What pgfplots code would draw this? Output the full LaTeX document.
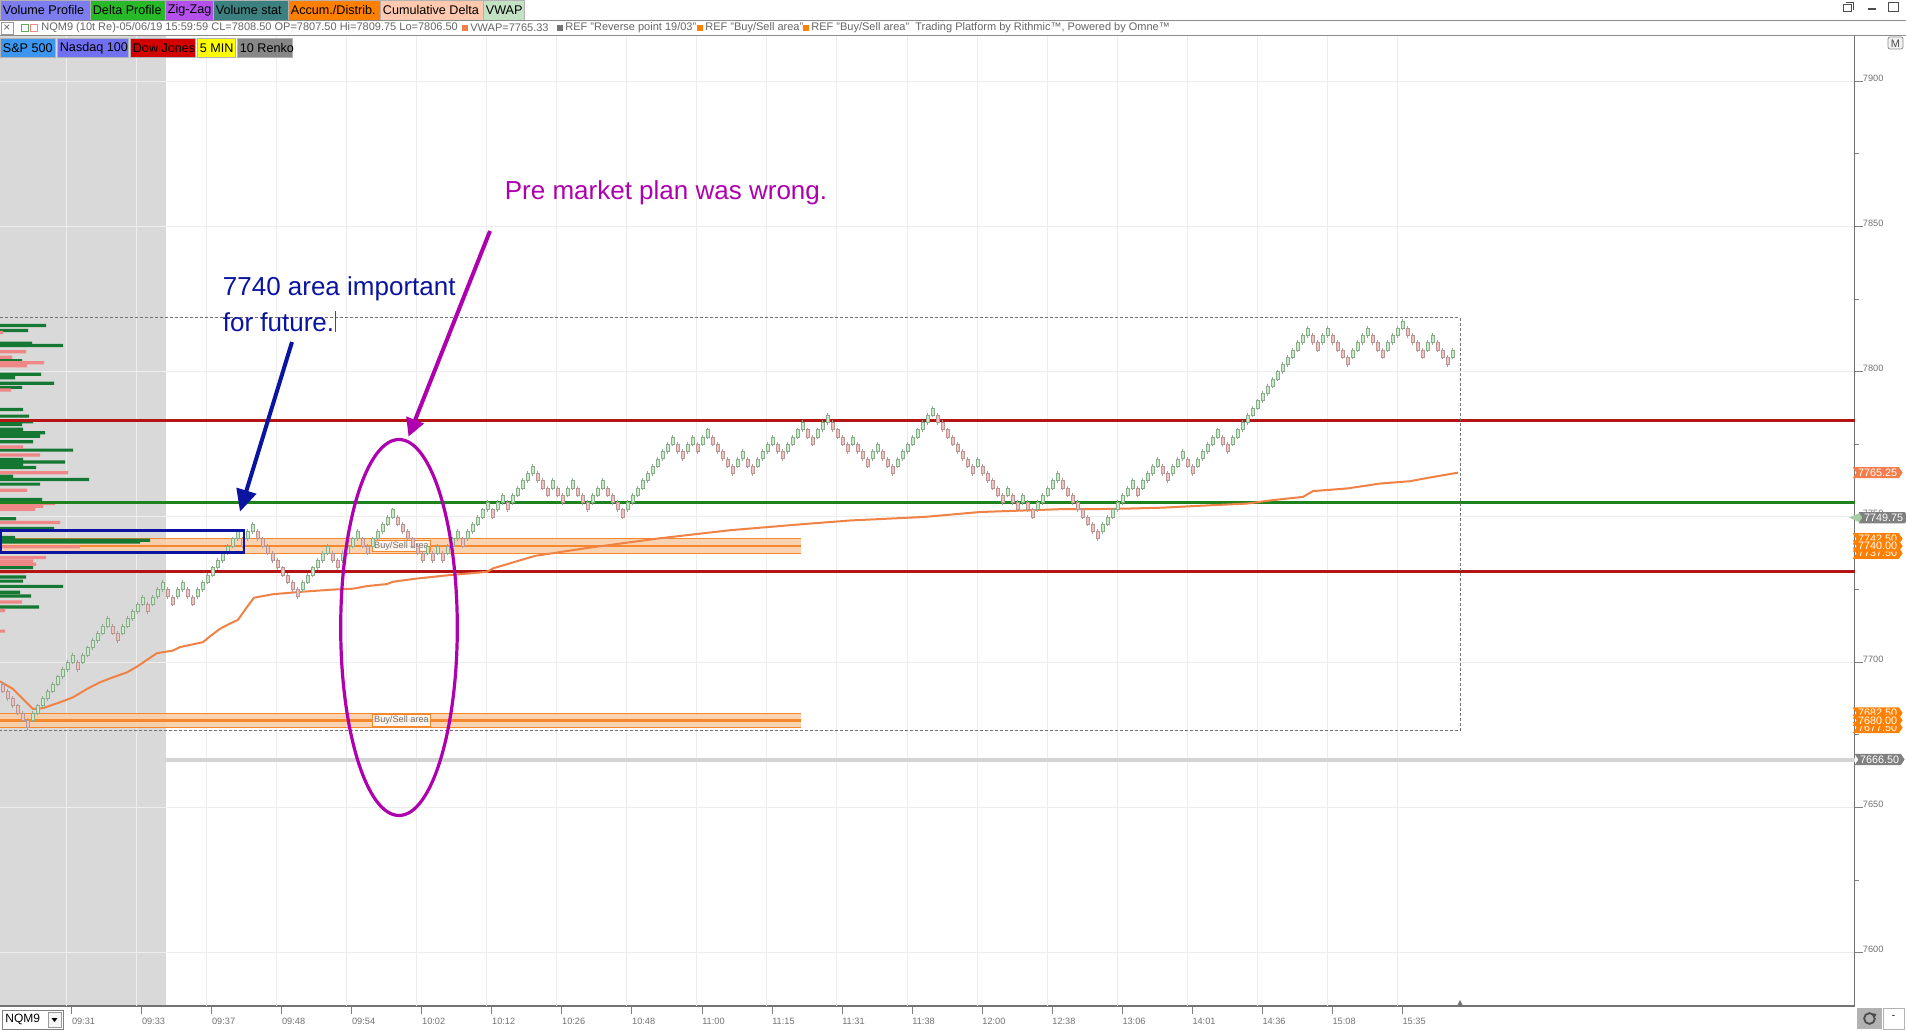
\documentclass[border=0pt]{standalone}
\usepackage{fontspec}
\setmainfont{Liberation Sans}
\usepackage{pgfplots}
\pgfplotsset{compat=1.18}
\usepackage{pgfplotstable}
\usetikzlibrary{arrows.meta,shapes.symbols}

\newcommand{\fs}[1]{\fontsize{#1pt}{#1pt}\selectfont}

\definecolor{shadegray}{RGB}{217,217,217}
\definecolor{vpgreen}{RGB}{20,120,50}
\definecolor{vppink}{RGB}{240,135,135}
\definecolor{lvred}{RGB}{180,20,20}
\definecolor{lvgreen}{RGB}{30,130,30}
\definecolor{vwap}{RGB}{240,130,70}
\definecolor{band}{RGB}{250,205,165}
\definecolor{bandline}{RGB}{245,135,45}
\definecolor{upfill}{RGB}{200,236,200}
\definecolor{updraw}{RGB}{140,170,140}
\definecolor{dnfill}{RGB}{240,195,195}
\definecolor{dndraw}{RGB}{185,150,150}
\definecolor{annblue}{RGB}{10,20,160}
\definecolor{annmag}{RGB}{175,0,175}
\definecolor{flagsal}{RGB}{245,125,75}
\definecolor{flagor}{RGB}{255,128,0}
\definecolor{flaggr}{RGB}{128,128,128}
\definecolor{bVP}{RGB}{125,125,240}
\definecolor{bDP}{RGB}{40,185,40}
\definecolor{bZZ}{RGB}{180,80,235}
\definecolor{bVS}{RGB}{60,128,128}
\definecolor{bAD}{RGB}{255,128,0}
\definecolor{bCD}{RGB}{255,200,175}
\definecolor{bVW}{RGB}{195,225,195}
\definecolor{bSP}{RGB}{60,150,240}
\definecolor{bNQ}{RGB}{112,112,240}
\definecolor{bDJ}{RGB}{210,0,0}
\definecolor{bMN}{RGB}{255,255,0}
\definecolor{bRK}{RGB}{135,135,135}

% renko brick: body + wick
\pgfdeclareplotmark{brick}{%
  \pgfpathmoveto{\pgfqpoint{0pt}{-2.9pt}}%
  \pgfpathlineto{\pgfqpoint{0pt}{2.9pt}}%
  \pgfusepathqstroke
  \pgfpathrectangle{\pgfqpoint{-0.85pt}{-1.8pt}}{\pgfqpoint{1.7pt}{3.6pt}}%
  \pgfusepathqfillstroke}

% brick index, brick centre price, direction
\pgfplotstableread[row sep=\\]{
i p c\\
0 7691.25 d\\ 1 7688.75 d\\ 2 7686.25 d\\ 3 7683.75 d\\ 4 7681.25 d\\ 5 7678.75 d\\
6 7681.25 u\\ 7 7683.75 u\\ 8 7686.25 u\\ 9 7688.75 u\\ 10 7691.25 u\\ 11 7693.75 u\\
12 7696.25 u\\ 13 7698.75 u\\ 14 7701.25 u\\ 15 7698.75 d\\ 16 7701.25 u\\ 17 7703.75 u\\
18 7706.25 u\\ 19 7708.75 u\\ 20 7711.25 u\\ 21 7713.75 u\\ 22 7711.25 d\\ 23 7708.75 d\\
24 7711.25 u\\ 25 7713.75 u\\ 26 7716.25 u\\ 27 7718.75 u\\ 28 7721.25 u\\ 29 7718.75 d\\
30 7721.25 u\\ 31 7723.75 u\\ 32 7726.25 u\\ 33 7723.75 d\\ 34 7721.25 d\\ 35 7723.75 u\\
36 7726.25 u\\ 37 7723.75 d\\ 38 7721.25 d\\ 39 7723.75 u\\ 40 7726.25 u\\ 41 7728.75 u\\
42 7731.25 u\\ 43 7733.75 u\\ 44 7736.25 u\\ 45 7738.75 u\\ 46 7741.25 u\\ 47 7743.75 u\\
48 7741.25 d\\ 49 7743.75 u\\ 50 7746.25 u\\ 51 7743.75 d\\ 52 7741.25 d\\ 53 7738.75 d\\
54 7736.25 d\\ 55 7733.75 d\\ 56 7731.25 d\\ 57 7728.75 d\\ 58 7726.25 d\\ 59 7723.75 d\\
60 7726.25 u\\ 61 7728.75 u\\ 62 7731.25 u\\ 63 7733.75 u\\ 64 7736.25 u\\ 65 7738.75 u\\
66 7736.25 d\\ 67 7733.75 d\\ 68 7736.25 u\\ 69 7738.75 u\\ 70 7741.25 u\\ 71 7743.75 u\\
72 7741.25 d\\ 73 7738.75 d\\ 74 7741.25 u\\ 75 7743.75 u\\ 76 7746.25 u\\ 77 7748.75 u\\
78 7751.25 u\\ 79 7748.75 d\\ 80 7746.25 d\\ 81 7743.75 d\\ 82 7741.25 d\\ 83 7738.75 d\\
84 7736.25 d\\ 85 7738.75 u\\ 86 7736.25 d\\ 87 7738.75 u\\ 88 7736.25 d\\ 89 7738.75 u\\
90 7741.25 u\\ 91 7743.75 u\\ 92 7741.25 d\\ 93 7743.75 u\\ 94 7746.25 u\\ 95 7748.75 u\\
96 7751.25 u\\ 97 7753.75 u\\ 98 7751.25 d\\ 99 7753.75 u\\ 100 7756.25 u\\ 101 7753.75 d\\
102 7756.25 u\\ 103 7758.75 u\\ 104 7761.25 u\\ 105 7763.75 u\\ 106 7766.25 u\\ 107 7763.75 d\\
108 7761.25 d\\ 109 7758.75 d\\ 110 7761.25 u\\ 111 7758.75 d\\ 112 7756.25 d\\ 113 7758.75 u\\
114 7761.25 u\\ 115 7758.75 d\\ 116 7756.25 d\\ 117 7753.75 d\\ 118 7756.25 u\\ 119 7758.75 u\\
120 7761.25 u\\ 121 7758.75 d\\ 122 7756.25 d\\ 123 7753.75 d\\ 124 7751.25 d\\ 125 7753.75 u\\
126 7756.25 u\\ 127 7758.75 u\\ 128 7761.25 u\\ 129 7763.75 u\\ 130 7766.25 u\\ 131 7768.75 u\\
132 7771.25 u\\ 133 7773.75 u\\ 134 7776.25 u\\ 135 7773.75 d\\ 136 7771.25 d\\ 137 7773.75 u\\
138 7776.25 u\\ 139 7773.75 d\\ 140 7776.25 u\\ 141 7778.75 u\\ 142 7776.25 d\\ 143 7773.75 d\\
144 7771.25 d\\ 145 7768.75 d\\ 146 7766.25 d\\ 147 7768.75 u\\ 148 7771.25 u\\ 149 7768.75 d\\
150 7766.25 d\\ 151 7768.75 u\\ 152 7771.25 u\\ 153 7773.75 u\\ 154 7776.25 u\\ 155 7773.75 d\\
156 7771.25 d\\ 157 7773.75 u\\ 158 7776.25 u\\ 159 7778.75 u\\ 160 7781.25 u\\ 161 7778.75 d\\
162 7776.25 d\\ 163 7778.75 u\\ 164 7781.25 u\\ 165 7783.75 u\\ 166 7781.25 d\\ 167 7778.75 d\\
168 7776.25 d\\ 169 7773.75 d\\ 170 7776.25 u\\ 171 7773.75 d\\ 172 7771.25 d\\ 173 7768.75 d\\
174 7771.25 u\\ 175 7773.75 u\\ 176 7771.25 d\\ 177 7768.75 d\\ 178 7766.25 d\\ 179 7768.75 u\\
180 7771.25 u\\ 181 7773.75 u\\ 182 7776.25 u\\ 183 7778.75 u\\ 184 7781.25 u\\ 185 7783.75 u\\
186 7786.25 u\\ 187 7783.75 d\\ 188 7781.25 d\\ 189 7778.75 d\\ 190 7776.25 d\\ 191 7773.75 d\\
192 7771.25 d\\ 193 7768.75 d\\ 194 7766.25 d\\ 195 7768.75 u\\ 196 7766.25 d\\ 197 7763.75 d\\
198 7761.25 d\\ 199 7758.75 d\\ 200 7756.25 d\\ 201 7758.75 u\\ 202 7756.25 d\\ 203 7753.75 d\\
204 7756.25 u\\ 205 7753.75 d\\ 206 7751.25 d\\ 207 7753.75 u\\ 208 7756.25 u\\ 209 7758.75 u\\
210 7761.25 u\\ 211 7763.75 u\\ 212 7761.25 d\\ 213 7758.75 d\\ 214 7756.25 d\\ 215 7753.75 d\\
216 7751.25 d\\ 217 7748.75 d\\ 218 7746.25 d\\ 219 7743.75 d\\ 220 7746.25 u\\ 221 7748.75 u\\
222 7751.25 u\\ 223 7753.75 u\\ 224 7756.25 u\\ 225 7758.75 u\\ 226 7761.25 u\\ 227 7758.75 d\\
228 7761.25 u\\ 229 7763.75 u\\ 230 7766.25 u\\ 231 7768.75 u\\ 232 7766.25 d\\ 233 7763.75 d\\
234 7766.25 u\\ 235 7768.75 u\\ 236 7771.25 u\\ 237 7768.75 d\\ 238 7766.25 d\\ 239 7768.75 u\\
240 7771.25 u\\ 241 7773.75 u\\ 242 7776.25 u\\ 243 7778.75 u\\ 244 7776.25 d\\ 245 7773.75 d\\
246 7776.25 u\\ 247 7778.75 u\\ 248 7781.25 u\\ 249 7783.75 u\\ 250 7786.25 u\\ 251 7788.75 u\\
252 7791.25 u\\ 253 7793.75 u\\ 254 7796.25 u\\ 255 7798.75 u\\ 256 7801.25 u\\ 257 7803.75 u\\
258 7806.25 u\\ 259 7808.75 u\\ 260 7811.25 u\\ 261 7813.75 u\\ 262 7811.25 d\\ 263 7808.75 d\\
264 7811.25 u\\ 265 7813.75 u\\ 266 7811.25 d\\ 267 7808.75 d\\ 268 7806.25 d\\ 269 7803.75 d\\
270 7806.25 u\\ 271 7808.75 u\\ 272 7811.25 u\\ 273 7813.75 u\\ 274 7811.25 d\\ 275 7808.75 d\\
276 7806.25 d\\ 277 7808.75 u\\ 278 7811.25 u\\ 279 7813.75 u\\ 280 7816.25 u\\ 281 7813.75 d\\
282 7811.25 d\\ 283 7808.75 d\\ 284 7806.25 d\\ 285 7808.75 u\\ 286 7811.25 u\\ 287 7808.75 d\\
288 7806.25 d\\ 289 7803.75 d\\ 290 7806.25 u\\
}\bricks

\begin{document}
\begin{tikzpicture}
\path[use as bounding box] (0,0) rectangle (953pt,515pt);

% background (pixel coordinates of the screenshot)
\begin{scope}[x=0.5pt,y=-0.5pt,yshift=515pt]
  \fill[white] (0,0) rectangle (1906,1030);
  \fill[shadegray] (0,36) rectangle (166,1006);
\end{scope}

\begin{axis}[
    at={(0pt,12pt)}, anchor=south west, scale only axis,
    width=927.25pt, height=485pt,
    xmin=0, xmax=1854.5, ymin=7581.65, ymax=7915.56,
    clip=false,
    axis x line*=bottom, axis y line*=right,
    axis line style={draw=black!55, line width=0.8pt},
    tick align=outside, major tick length=4pt, minor tick length=2pt,
    tick style={draw=black!50, line width=0.4pt},
    ytick={7600,7650,7700,7750,7800,7850,7900},
    minor ytick={7625,7675,7725,7775,7825,7875},
    ymajorgrids,
    grid style={draw=black!7, line width=0.5pt},
    yticklabel style={font=\fs{4.6}, text=black!55, anchor=west, inner sep=0.5pt, xshift=-0.5pt, yshift=1.6pt},
    xtick={71.6,141.6,211.7,281.7,351.7,421.8,491.8,561.8,631.8,701.9,771.9,841.9,912.0,982.0,1052.0,1122.1,1192.1,1262.1,1332.2,1402.2},
    xticklabels={09:31,09:33,09:37,09:48,09:54,10:02,10:12,10:26,10:48,11:00,11:15,11:31,11:38,12:00,12:38,13:06,14:01,14:36,15:08,15:35},
    xticklabel style={font=\fs{4.6}, text=black!55, anchor=north west, inner sep=0.5pt, xshift=-0.5pt, yshift=-1.5pt},
    extra x ticks={66.6,136.6,206.7,276.7,346.7,416.8,486.8,556.8,626.8,696.9,766.9,836.9,907.0,977.0,1047.0,1117.1,1187.1,1257.1,1327.2,1397.2},
    extra x tick style={grid=major, tick style={draw=none}, xticklabel={}},
    /pgf/number format/1000 sep={}, /pgf/number format/assume math mode=true,
]

% Buy/Sell areas
\addplot[draw=none, fill=band, fill opacity=0.85] coordinates {(0,7737.5) (801,7737.5) (801,7742.5) (0,7742.5)} -- cycle;
\addplot[draw=none, fill=band, fill opacity=0.85] coordinates {(0,7677.5) (801,7677.5) (801,7682.5) (0,7682.5)} -- cycle;
\addplot[bandline, line width=0.5pt] coordinates {(0,7742.5) (801,7742.5)};
\addplot[bandline, line width=0.5pt] coordinates {(0,7737.5) (801,7737.5)};
\addplot[bandline, line width=1.2pt] coordinates {(0,7740) (801,7740)};
\addplot[bandline, line width=0.5pt] coordinates {(0,7682.5) (801,7682.5)};
\addplot[bandline, line width=0.5pt] coordinates {(0,7677.5) (801,7677.5)};
\addplot[bandline, line width=1.2pt] coordinates {(0,7680) (801,7680)};

% volume profile
\addplot[xbar, bar width=1.1, bar shift=0pt, fill=vpgreen, draw=none] coordinates {
(46,7815.9) (28,7814.2) (32,7809.8) (63,7809.0) (22,7803.8) (41,7799.1) (15,7797.9)
(54,7796.0) (22,7794.6) (23,7787.0) (29,7784.7) (33,7782.8) (22,7781.8) (23,7780.2)
(45,7779.0) (40,7777.8) (33,7775.9) (73,7773.0) (23,7769.8) (65,7768.9) (23,7768.2)
(36,7767.0) (13,7764.0) (89,7762.9) (40,7761.3) (42,7756.0) (16,7749.4) (54,7746.0)
(15,7742.9) (150,7742.0) (140,7741.4) (33,7732.6) (26,7729.3) (23,7727.9) (63,7726.1)
(20,7724.1) (31,7722.8) (39,7719.0)};
\addplot[xbar, bar width=1.1, bar shift=0pt, fill=vppink, draw=none] coordinates {
(3,7813.5) (26,7806.9) (12,7805.0) (44,7803.1) (27,7802.0) (11,7793.7) (23,7774.1)
(40,7771.3) (68,7765.2) (27,7759.2) (55,7754.6) (43,7753.7) (35,7752.6) (60,7748.1)
(80,7739.7) (46,7736.0) (33,7734.8) (36,7733.7) (25,7731.0) (22,7720.7) (5,7717.8)
(5,7710.7)};

% levels
\addplot[lvred, line width=1.2pt] coordinates {(0,7783.25) (1854.5,7783.25)};
\addplot[lvgreen, line width=1.2pt] coordinates {(0,7755) (1854.5,7755)};
\addplot[lvred, line width=1.2pt] coordinates {(0,7731.25) (1854.5,7731.25)};
\addplot[black!17, line width=2pt] coordinates {(166,7666.5) (1854.5,7666.5)};

% VWAP
\addplot[vwap, line width=1pt] coordinates {
(0,7693.4) (13,7690.8) (23,7687.3) (33,7683.9) (43,7684.2) (60,7686.2) (73,7687.9)
(87,7690.8) (100,7693.1) (113,7694.8) (127,7696.5) (137,7698.5) (147,7700.8) (157,7703.1)
(173,7704.0) (180,7705.2) (203,7706.9) (210,7708.9) (220,7711.5) (230,7713.3) (238,7714.6)
(247,7719.0) (254,7722.2) (273,7723.4) (300,7724.2) (333,7725.0) (353,7725.3) (367,7726.2)
(387,7726.9) (393,7727.7) (417,7728.8) (450,7730.0) (487,7731.1) (493,7732.3) (535,7736.6)
(583,7739.1) (656,7742.5) (729,7745.4) (802,7747.5) (851,7748.8) (924,7750.0) (980,7751.7)
(1063,7752.7) (1097,7752.7) (1130,7752.9) (1163,7753.2) (1197,7753.8) (1247,7754.6)
(1273,7755.8) (1303,7756.9) (1313,7758.9) (1347,7759.8) (1380,7761.5) (1410,7762.3)
(1427,7763.4) (1458,7765.25)};

% session range box
\addplot[black!55, line width=0.5pt, dash pattern=on 1.5pt off 1pt] coordinates {(0,7818.5) (1460,7818.5) (1460,7676.5) (0,7676.5)};

% renko bricks
\addplot[scatter, only marks, scatter src=explicit symbolic,
  scatter/classes={u={mark=brick, draw=updraw, fill=upfill, line width=0.35pt},
                   d={mark=brick, draw=dndraw, fill=dnfill, line width=0.35pt}}]
  table[x expr=2.7+5*\thisrow{i}, y=p, meta=c] {\bricks};

% area labels
\node[draw=bandline, fill=white, fill opacity=0.8, text opacity=1, text=black!55, font=\fs{4.6}, inner xsep=1pt, inner ysep=0.8pt, line width=0.4pt] at (axis cs:401.5,7740) {Buy/Sell area};
\node[draw=bandline, fill=white, fill opacity=0.8, text opacity=1, text=black!55, font=\fs{4.6}, inner xsep=1pt, inner ysep=0.8pt, line width=0.4pt] at (axis cs:401.5,7680) {Buy/Sell area};

% price flags
\tikzset{flag/.style={signal, signal from=west, signal pointer angle=110, text=white, font=\fs{5.4}, inner xsep=0.8pt, inner ysep=0pt, minimum height=5.6pt, anchor=west}}
\node[flag, fill=flagsal, minimum width=25pt] at (axis cs:1856,7765.25) {7765.25};
\fill[lvgreen!40] (axis cs:1849,7749.75) -- (axis cs:1862,7751.7) -- (axis cs:1862,7747.8) -- cycle;
\node[flag, fill=flaggr, minimum width=22pt] at (axis cs:1862,7749.75) {7749.75};
\node[flag, fill=flagor, minimum width=25pt] at (axis cs:1856,7742.5) {7742.50};
\node[flag, fill=flagor, minimum width=25pt] at (axis cs:1856,7737.5) {7737.50};
\node[flag, fill=flagor, minimum width=25pt] at (axis cs:1856,7740) {7740.00};
\node[flag, fill=flagor, minimum width=25pt] at (axis cs:1856,7682.5) {7682.50};
\node[flag, fill=flagor, minimum width=25pt] at (axis cs:1856,7677.5) {7677.50};
\node[flag, fill=flagor, minimum width=25pt] at (axis cs:1856,7680) {7680.00};
\node[flag, fill=flaggr, minimum width=24pt] at (axis cs:1858,7666.5) {7666.50};
\end{axis}

% platform frame, toolbars and annotations
\begin{scope}[x=0.5pt,y=-0.5pt,yshift=515pt]
  \tikzset{btn/.style={draw=black!30, line width=0.3pt}}
  \newcommand{\btn}[6]{\fill[#5] (#1,#3) rectangle (#2,#4); \draw[btn] (#1,#3) rectangle (#2,#4);
    \node[anchor=west, inner sep=0pt, font=\fs{6.3}] at ({#1+2.5},{(#3+#4)/2+0.5}) {#6};}
  \btn{0}{90}{0}{20}{bVP}{Volume Profile}
  \btn{90}{165}{0}{20}{bDP}{Delta Profile}
  \btn{165}{213}{0}{20}{bZZ}{Zig-Zag}
  \btn{213}{288}{0}{20}{bVS}{Volume stat}
  \btn{288}{380}{0}{20}{bAD}{Accum./Distrib.}
  \btn{380}{483}{0}{20}{bCD}{Cumulative Delta}
  \btn{483}{524}{0}{20}{bVW}{VWAP}
  \btn{0}{55}{38}{57}{bSP}{S\&P 500}
  \btn{57}{128}{38}{57}{bNQ}{Nasdaq 100}
  \btn{130}{195}{38}{57}{bDJ}{Dow Jones}
  \btn{197}{235}{38}{57}{bMN}{5 MIN}
  \btn{237}{292}{38}{57}{bRK}{10 Renko}

  % info line
  \draw[black!45, line width=0.5pt] (0,20.5) -- (1906,20.5);
  \draw[black!45, line width=0.5pt] (0,35.5) -- (1906,35.5);
  \draw[black!40, line width=0.3pt] (1,22) rectangle (13,34);
  \node[font=\fs{6}, text=black!60, inner sep=0pt] at (7,28) {×};
  \draw[lvgreen!70, line width=0.4pt] (21,24) rectangle (28,31);
  \draw[vppink, line width=0.4pt] (30,24) rectangle (37,31);
  \tikzset{info/.style={anchor=west, inner sep=0pt, font=\fs{5.5}, text=black!60}}
  \node[info] at (41,28) {NQM9 (10t Re)-05/06/19 15:59:59 CL=7808.50 OP=7807.50 Hi=7809.75 Lo=7806.50};
  \fill[vwap] (462,25) rectangle (468,31);
  \node[info] at (470,28) {VWAP=7765.33};
  \fill[black!55] (557,25) rectangle (563,31);
  \node[info] at (565,28) {REF "Reverse point 19/03"};
  \fill[flagor] (697,25) rectangle (703,31);
  \node[info] at (705,28) {REF "Buy/Sell area"};
  \fill[flagor] (803,25) rectangle (809,31);
  \node[info] at (811,28) {REF "Buy/Sell area"\ \ Trading Platform by Rithmic™, Powered by Omne™};

  % window controls
  \draw[black!70, line width=0.5pt] (1843,5) rectangle (1851,12) (1846,3) -- (1853,3) -- (1853,10);
  \draw[black!70, line width=0.6pt] (1868,9) -- (1876,9);
  \draw[black!70, line width=0.5pt] (1888,3) rectangle (1898,12);
  \draw[black!45, line width=0.4pt, rounded corners=1pt, fill=black!5] (1888,37) rectangle (1903,49);
  \node[font=\fs{5.5}, inner sep=0pt, text=black!70] at (1895.5,43.5) {M};

  % bottom bar
  \fill[black!55] (1457,1006) -- (1463,1006) -- (1460,1000) -- cycle;
  \draw[black!50, line width=0.4pt] (2,1010) rectangle (63,1029);
  \node[anchor=west, inner sep=0pt, font=\fs{6}] at (5,1019) {NQM9};
  \draw[black!40, line width=0.3pt, fill=black!4] (48,1012) rectangle (61,1027);
  \fill[black] (51.5,1018) -- (57.5,1018) -- (54.5,1022) -- cycle;
  \fill[black!30] (1857,1008) rectangle (1882,1029);
  \draw[black!70, line width=0.9pt] (1869.5,1018.5) circle[radius=2.7pt];
  \fill[black!30] (1872,1012) rectangle (1878,1018);
  \fill[black!70] (1871,1013) -- (1876.5,1014) -- (1874,1019) -- cycle;
  \draw[black!30, line width=0.3pt] (1883,1008) rectangle (1904,1029);
  \node[font=\fs{5}, inner sep=0pt] at (1893.5,1017) {-};

  % annotations
  \draw[annblue, line width=1.4pt] (0.7,530.7) rectangle (244,552.3);
  \draw[annblue, line width=2pt, -{Triangle[length=11pt,width=10pt]}] (292,342) -- (240,511.7);
  \draw[annmag, line width=2pt, -{Triangle[length=9pt,width=9pt]}] (490,231) -- (408.5,436.7);
  \draw[annmag, line width=1.6pt] (399,627.5) ellipse [x radius=29.15pt, y radius=94pt];
  \node[anchor=west, inner sep=0pt, text=annblue, font=\fs{13}] at (222.5,289) {7740 area important};
  \node[anchor=west, inner sep=0pt, text=annblue, font=\fs{13}] at (222.5,322) {for future.};
  \draw[black!70, line width=0.4pt] (335.5,311) -- (335.5,332);
  \node[anchor=west, inner sep=0pt, text=annmag, font=\fs{13}] at (504.5,193) {Pre market plan was wrong.};
\end{scope}
\end{tikzpicture}
\end{document}
